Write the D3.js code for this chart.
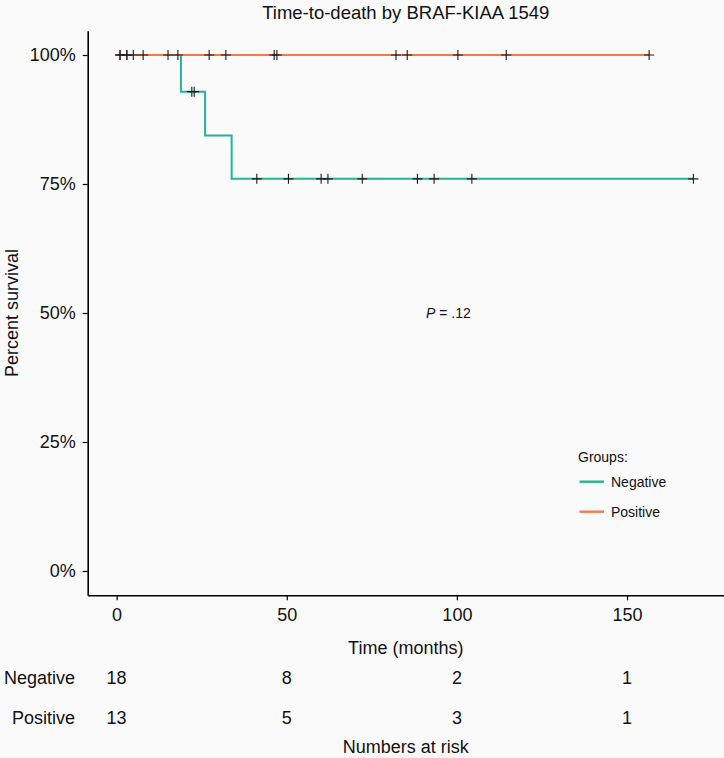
<!DOCTYPE html>
<html>
<head>
<meta charset="utf-8">
<script src="https://cdn.jsdelivr.net/npm/d3@7"></script>
<style>
  body { margin: 0; background: #fafafa; }
  svg { display: block; font-family: "Liberation Sans", Arial, sans-serif; }
</style>
</head>
<body>
<div id="chart"></div>
<script>
// survival steps (time in months, survival fraction)
const negStepTimes = [0, 18.9, 26.0, 33.8];
const negStepSurv = [1, 0.929, 0.844, 0.760];
const negEnd = 169.5;
const negCensor = [1.0, 3.0, 4.9, 7.8, 22.1, 22.8, 41.2, 50.5, 60.1, 62.1, 72.2, 88.4, 93.3, 104.4, 169.5];

const posStepTimes = [0];
const posStepSurv = [1];
const posEnd = 156.5;
const posCensor = [1.0, 3.0, 15.1, 18.0, 27.2, 32.1, 46.3, 47.1, 82.1, 85.4, 100.3, 114.5, 156.5];

// numbers at risk
const riskTimes = [0, 50, 100, 150];
const negRisk = [18, 8, 2, 1];
const posRisk = [13, 5, 3, 1];

const yTicks = [0, 0.25, 0.5, 0.75, 1];
const groups = ["Negative", "Positive"];
const colors = {Negative: "#22b599", Positive: "#f47a4a"};

const W = 724, H = 758;
const panel = {left: 87.7, right: 724, top: 30.75, bottom: 595.25};

const x = d3.scaleLinear().domain([-8.5, 178.5]).range([panel.left, panel.right]);
const y = d3.scaleLinear().domain([-0.047, 1.047]).range([panel.bottom, panel.top]);

const svg = d3.select("#chart").append("svg")
    .attr("width", W)
    .attr("height", H);

//turn steps into a line
function stepPoints(times, surv, end) {
    const pts = times.map((t, i) => [t, surv[i]]);
    pts.push([end, surv[surv.length - 1]]);
    return pts;
}
function survAt(times, surv, t) {
    let s = surv[0];
    times.forEach((tt, i) => { if (tt <= t) s = surv[i]; });
    return s;
}

const series = [
    {name: "Negative", pts: stepPoints(negStepTimes, negStepSurv, negEnd), censor: negCensor.map(t => [t, survAt(negStepTimes, negStepSurv, t)])},
    {name: "Positive", pts: stepPoints(posStepTimes, posStepSurv, posEnd), censor: posCensor.map(t => [t, survAt(posStepTimes, posStepSurv, t)])}
];

const line = d3.line()
    .x(d => x(d[0]))
    .y(d => y(d[1]))
    .curve(d3.curveStepAfter);

svg.append("g")
  .selectAll("path")
  .data(series)
  .join("path")
  .attr("fill", "none")
  .attr("stroke", d => colors[d.name])
  .attr("stroke-width", 2)
  .attr("d", d => line(d.pts));

//censor marks
const cens = series.flatMap(s => s.censor);
svg.append("g")
  .selectAll("path")
  .data(cens)
  .join("path")
  .attr("stroke", "#1a1a1a")
  .attr("stroke-width", 1.1)
  .attr("d", d => {
      const cx = x(d[0]), cy = y(d[1]);
      return `M${cx - 5},${cy}H${cx + 5}M${cx},${cy - 5}V${cy + 5}`;
  });

//axes
const xAxis = svg.append("g")
    .attr("transform", `translate(0,${panel.bottom})`)
    .call(d3.axisBottom(x).tickValues(riskTimes).tickSize(5).tickPadding(8).tickSizeOuter(0));
xAxis.select(".domain").attr("stroke", "#000").attr("stroke-width", 1.6);
xAxis.selectAll(".tick line").attr("stroke", "#000").attr("stroke-width", 1.2);
xAxis.selectAll(".tick text").attr("font-size", 18).attr("fill", "#111").attr("font-family", null);

const yAxis = svg.append("g")
    .attr("transform", `translate(${panel.left},0)`)
    .call(d3.axisLeft(y).tickValues(yTicks).tickFormat(d3.format(".0%")).tickSize(5).tickPadding(7).tickSizeOuter(0));
yAxis.select(".domain").attr("stroke", "#000").attr("stroke-width", 1.6);
yAxis.selectAll(".tick line").attr("stroke", "#000").attr("stroke-width", 1.2);
yAxis.selectAll(".tick text").attr("font-size", 18).attr("fill", "#111").attr("font-family", null);

//titles
svg.append("text")
    .attr("x", 405.8).attr("y", 19)
    .attr("text-anchor", "middle")
    .attr("font-size", 18.5)
    .attr("fill", "#111")
    .text("Time-to-death by BRAF-KIAA 1549");

svg.append("text")
    .attr("transform", "translate(18,313) rotate(-90)")
    .attr("text-anchor", "middle")
    .attr("font-size", 18)
    .attr("fill", "#111")
    .text("Percent survival");

svg.append("text")
    .attr("x", 405.8).attr("y", 654)
    .attr("text-anchor", "middle")
    .attr("font-size", 18)
    .attr("fill", "#111")
    .text("Time (months)");

// p value
const pText = svg.append("text")
    .attr("x", 426).attr("y", 318)
    .attr("font-size", 14)
    .attr("fill", "#111");
pText.append("tspan").attr("font-style", "italic").text("P");
pText.append("tspan").text(" = .12");

//legend
const legend = svg.append("g").attr("transform", "translate(578,0)");
legend.append("text")
    .attr("x", 0).attr("y", 461.5)
    .attr("font-size", 14)
    .attr("fill", "#111")
    .text("Groups:");
legend.selectAll("line")
  .data(groups)
  .join("line")
  .attr("x1", 1.5).attr("x2", 26)
  .attr("y1", (d, i) => 481.7 + i * 30)
  .attr("y2", (d, i) => 481.7 + i * 30)
  .attr("stroke", d => colors[d])
  .attr("stroke-width", 2.4);
legend.selectAll(".legend-label")
  .data(groups)
  .join("text")
  .attr("class", "legend-label")
  .attr("x", 33)
  .attr("y", (d, i) => 486.7 + i * 30)
  .attr("font-size", 14)
  .attr("fill", "#111")
  .text(d => d);

//numbers at risk table
const riskRows = [{name: "Negative", vals: negRisk}, {name: "Positive", vals: posRisk}];
const rowY = [677, 717];
riskRows.forEach((r, i) => {
    svg.append("text")
        .attr("x", 75).attr("y", rowY[i] + 6.5)
        .attr("text-anchor", "end")
        .attr("font-size", 18)
        .attr("fill", "#111")
        .text(r.name);
    svg.append("g")
      .selectAll("text")
      .data(r.vals)
      .join("text")
      .attr("x", (d, j) => x(riskTimes[j]))
      .attr("y", rowY[i] + 6.5)
      .attr("text-anchor", "middle")
      .attr("font-size", 18)
      .attr("fill", "#111")
      .text(d => d);
});

svg.append("text")
    .attr("x", 405.8).attr("y", 753)
    .attr("text-anchor", "middle")
    .attr("font-size", 18)
    .attr("fill", "#111")
    .text("Numbers at risk");
</script>
</body>
</html>
